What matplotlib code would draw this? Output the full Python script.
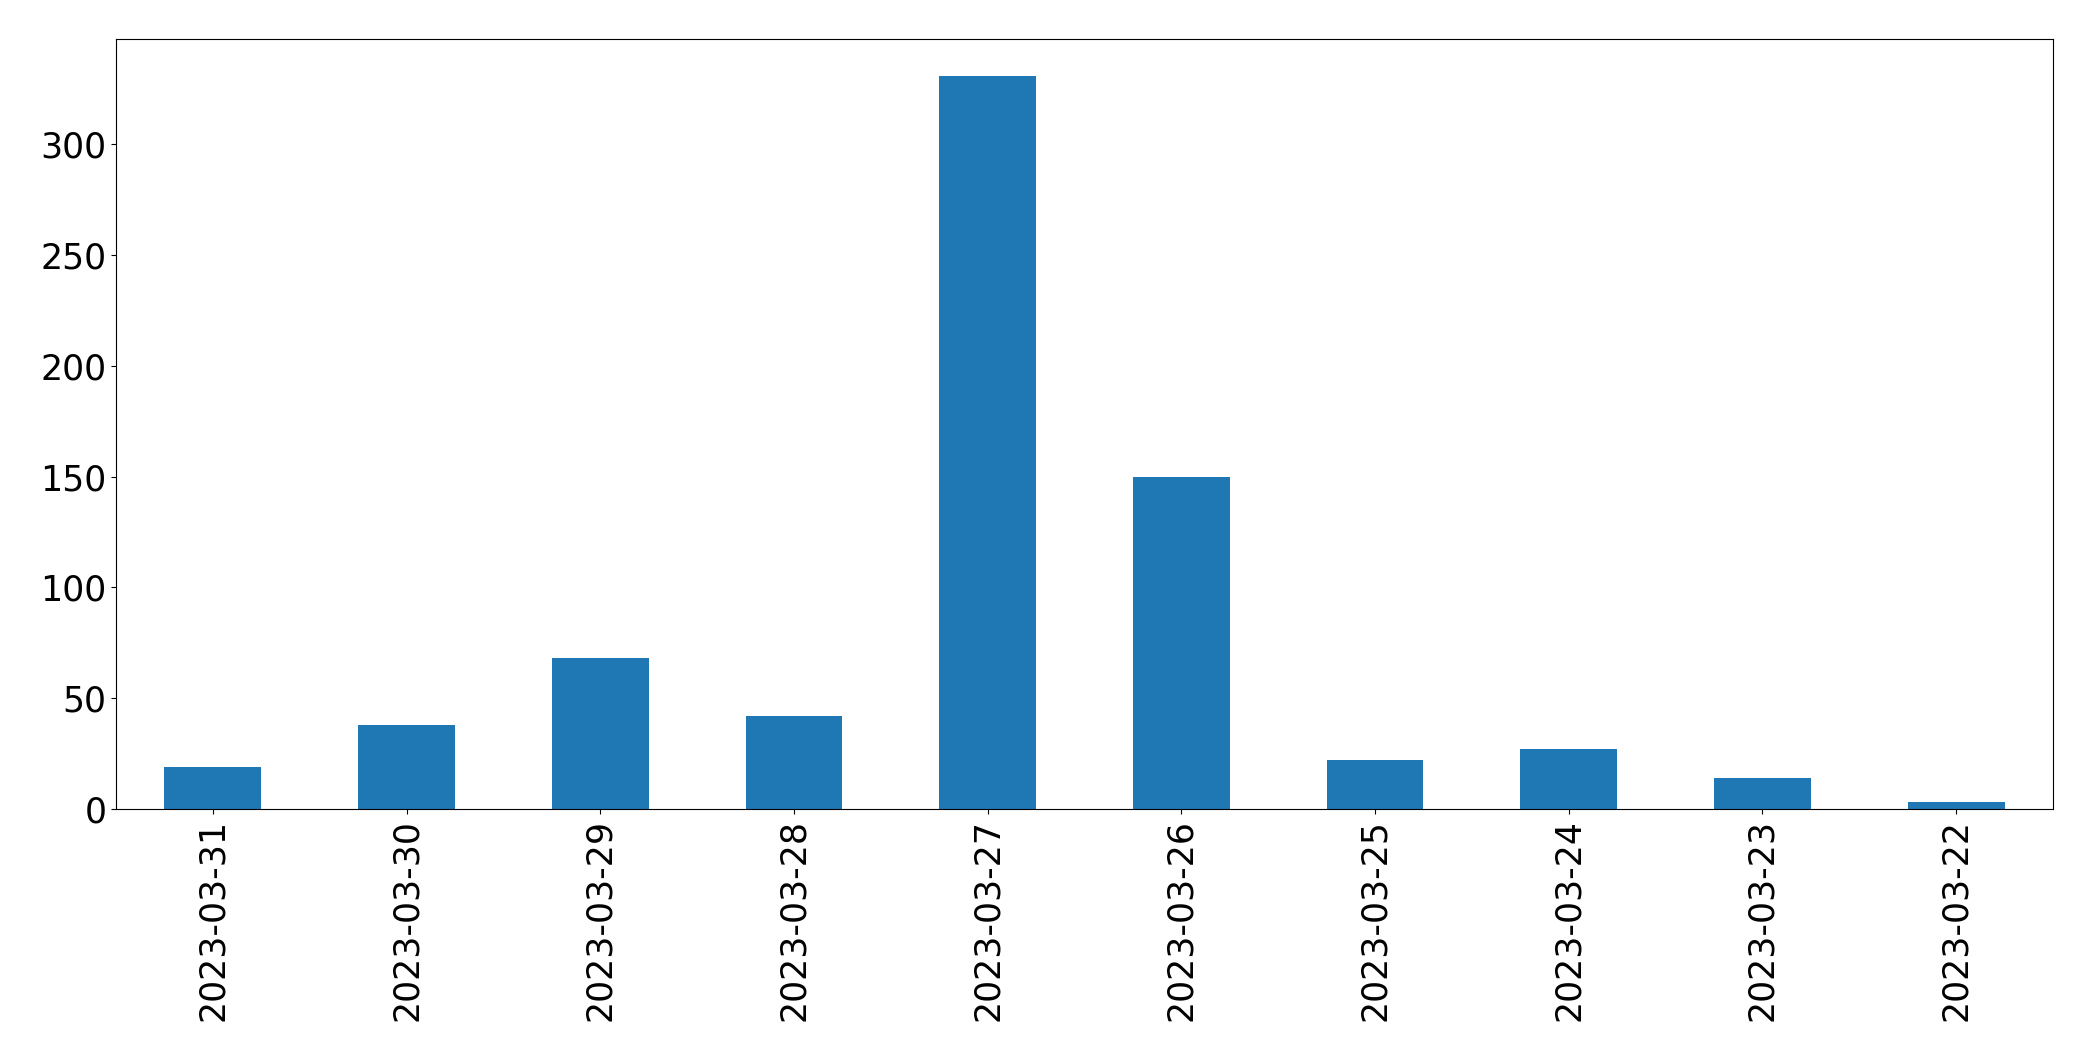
import matplotlib
matplotlib.use("Agg")
import matplotlib.pyplot as plt
import numpy as np

dates = ["2023-03-31", "2023-03-30", "2023-03-29", "2023-03-28", "2023-03-27",
         "2023-03-26", "2023-03-25", "2023-03-24", "2023-03-23", "2023-03-22"]
counts = [19, 38, 68, 42, 331, 150, 22, 27, 14, 3]

fig = plt.figure(figsize=(20.93, 10.61), dpi=100)
ax = fig.add_axes([116/2093, 1 - 809/1061, (2053 - 116)/2093, (809 - 39)/1061])
x = np.arange(len(dates))
ax.bar(x, counts, width=0.5, color="#1f77b4")
ax.set_xlim(-0.5, len(dates) - 0.5)
ax.set_xticks(x)
ax.set_xticklabels(dates, rotation=90)
ax.tick_params(axis="both", labelsize=25)
ax.set_yticks([0, 50, 100, 150, 200, 250, 300])
fig.savefig("out.png", dpi=100)
